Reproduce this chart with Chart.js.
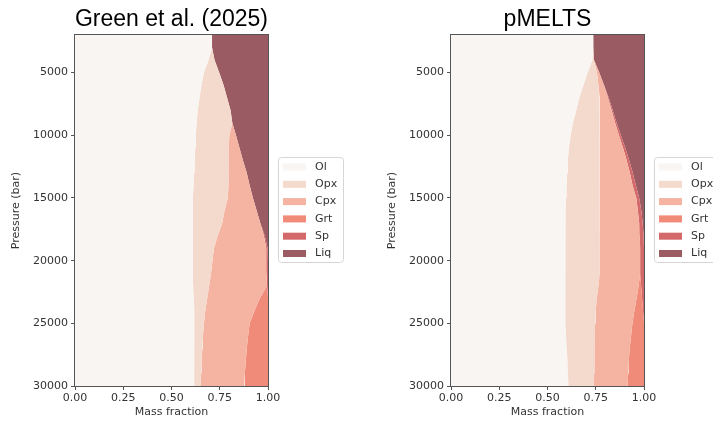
<!DOCTYPE html>
<html>
<head>
<meta charset="utf-8">
<script src="https://cdn.jsdelivr.net/npm/chart.js@4.4.1/dist/chart.umd.min.js"></script>
<style>
    body { margin: 0; background: #fff; }
    #wrap { position: relative; width: 713px; height: 425px; overflow: hidden; }
    .panel { position: absolute; top: 0; height: 425px; }
</style>
</head>
<body>
<div id="wrap">
    <div class="panel" style="left:0;width:356px"><canvas id="green" width="356" height="425"></canvas></div>
    <div class="panel" style="left:376px;width:337px"><canvas id="pmelts" width="337" height="425"></canvas></div>
</div>
<script>
// pressure (bar) down the y axis
var pressure = [2000, 3000, 4000, 5000, 6000, 7000, 8000, 9000, 10000, 11000, 12000, 13000, 14000, 15000,
    16000, 17000, 18000, 19000, 20000, 21000, 22000, 23000, 24000, 25000, 26000, 27000, 28000, 29000, 30000];
var phases = ['Ol', 'Opx', 'Cpx', 'Grt', 'Sp', 'Liq'];
var phaseColors = ['#f8f5f3', '#f4d9cd', '#f4b4a1', '#f08a79', '#d4696b', '#9b5b63'];
var xTicks = [0, 0.25, 0.5, 0.75, 1];
var yTicks = [5000, 10000, 15000, 20000, 25000, 30000];

// Green et al. (2025) mass fractions
var greenOl  = [.710, .710, .692, .668, .655, .645, .636, .630, .626, .623, .620, .617, .614, .611,
    .610, .610, .610, .610, .610, .610, .612, .616, .618, .618, .617, .617, .617, .617, .617];
var greenOpx = [0, 0, .031, .079, .115, .143, .170, .185, .174, .173, .175, .178, .181, .181,
    .165, .153, .130, .110, .102, .095, .083, .069, .057, .050, .046, .043, .039, .036, .033];
var greenCpx = [0, 0, 0, 0, 0, 0, 0, 0, .034, .056, .075, .095, .110, .130,
    .166, .197, .238, .270, .280, .287, .300, .273, .255, .237, .234, .230, .229, .227, .226];
var greenGrt = [0, 0, 0, 0, 0, 0, 0, 0, 0, 0, 0, 0, 0, 0,
    0, 0, 0, 0, 0, 0, 0, .042, .070, .095, .103, .110, .115, .120, .124];
var greenSp  = [0, 0, 0, 0, 0, 0, 0, 0, 0, 0, 0, 0, 0, 0,
    0, 0, .005, .008, .008, .008, .005, 0, 0, 0, 0, 0, 0, 0, 0];
var greenLiq = [.290, .290, .277, .253, .230, .212, .194, .185, .166, .148, .130, .110, .095, .078,
    .059, .040, .017, .002, 0, 0, 0, 0, 0, 0, 0, 0, 0, 0, 0];

// pMELTS mass fractions
var pmeltsOl  = [.737, .737, .733, .708, .686, .665, .649, .632, .620, .611, .605, .602, .599, .596,
    .594, .592, .592, .592, .592, .592, .592, .592, .592, .592, .596, .600, .603, .606, .608];
var pmeltsOpx = [0, 0, .007, .048, .078, .103, .121, .140, .152, .161, .167, .170, .173, .176,
    .178, .180, .178, .176, .175, .178, .172, .163, .158, .155, .149, .143, .139, .135, .132];
var pmeltsCpx = [0, 0, .001, .012, .029, .045, .062, .078, .098, .119, .138, .155, .169, .188,
    .196, .203, .208, .212, .213, .210, .208, .207, .200, .193, .188, .183, .179, .177, .175];
var pmeltsGrt = [0, 0, 0, 0, 0, 0, 0, 0, 0, 0, 0, 0, 0, 0,
    0, 0, 0, 0, 0, 0, .013, .028, .045, .060, .067, .074, .079, .082, .085];
var pmeltsSp  = [0, 0, 0, 0, 0, .004, .006, .008, .010, .012, .013, .015, .017, .015,
    .018, .018, .020, .020, .020, .020, .015, .010, .005, 0, 0, 0, 0, 0, 0];
var pmeltsLiq = [.263, .263, .259, .232, .207, .183, .162, .142, .120, .097, .077, .058, .042, .025,
    .014, .007, .002, 0, 0, 0, 0, 0, 0, 0, 0, 0, 0, 0, 0];

Chart.defaults.font.family = '"DejaVu Sans", sans-serif';
Chart.defaults.font.size = 11;
Chart.defaults.color = '#333';

// spines all round, title above, matplotlib style legend box on the right
var panelDecor = {
    id: 'panelDecor',
    afterDraw: function(chart, args, opts) {
        var ctx = chart.ctx;
        var a = chart.chartArea;
        ctx.save();
        ctx.strokeStyle = '#555';
        ctx.lineWidth = 1;
        ctx.strokeRect(a.left - 0.5, a.top - 0.5, a.right - a.left + 1, a.bottom - a.top + 1);

        ctx.fillStyle = '#000';
        ctx.font = '23px "Liberation Sans", Arial, sans-serif';
        ctx.textAlign = 'center';
        ctx.textBaseline = 'alphabetic';
        ctx.fillText(opts.title, (a.left + a.right) / 2, 26);

        var lx = a.right + 10, ly = 157;
        ctx.beginPath();
        ctx.roundRect(lx + 0.5, ly + 0.5, 65, 105, 3);
        ctx.fillStyle = 'rgba(255,255,255,0.8)';
        ctx.fill();
        ctx.strokeStyle = '#d6d6d6';
        ctx.stroke();
        ctx.font = '11px "DejaVu Sans", sans-serif';
        ctx.textAlign = 'left';
        ctx.textBaseline = 'middle';
        chart.data.datasets.forEach(function(ds, i) {
            var cy = ly + 10 + i * 17.3;
            ctx.fillStyle = ds.backgroundColor;
            ctx.fillRect(lx + 5, cy - 3.5, 23, 7);
            ctx.fillStyle = '#333';
            ctx.fillText(ds.label, lx + 37, cy);
        });
        ctx.restore();
    }
};

function buildPanel(canvasId, title, values, rightPad) {
    var running = pressure.map(function() { return 0; });
    var datasets = values.map(function(arr, i) {
        running = running.map(function(v, j) { return v + arr[j]; });
        return {
            label: phases[i],
            data: pressure.map(function(p, j) { return {x: running[j], y: p}; }),
            backgroundColor: phaseColors[i],
            borderColor: phaseColors[i],
            borderWidth: 0,
            pointRadius: 0,
            tension: 0,
            fill: i === 0 ? 'origin' : '-1'
        };
    });

    return new Chart(document.getElementById(canvasId), {
        type: 'line',
        data: { datasets: datasets },
        plugins: [panelDecor],
        options: {
            indexAxis: 'y',
            responsive: false,
            animation: false,
            events: [],
            layout: { padding: { left: 0, top: 35, right: rightPad, bottom: 0 } },
            plugins: {
                legend: { display: false },
                tooltip: { enabled: false },
                panelDecor: { title: title }
            },
            scales: {
                x: {
                    type: 'linear',
                    position: 'bottom',
                    min: 0,
                    max: 1,
                    afterFit: function(s) { s.height = 39; },
                    afterBuildTicks: function(s) { s.ticks = xTicks.map(function(v) { return {value: v}; }); },
                    ticks: { padding: 2, callback: function(v) { return v.toFixed(2); } },
                    grid: { drawOnChartArea: false, tickLength: 4, color: '#555' },
                    border: { color: '#555' },
                    title: { display: true, text: 'Mass fraction', padding: { top: 0, bottom: 6 } }
                },
                y: {
                    type: 'linear',
                    position: 'left',
                    min: 2000,
                    max: 30000,
                    reverse: true,
                    afterFit: function(s) { s.width = 75; },
                    afterBuildTicks: function(s) { s.ticks = yTicks.map(function(v) { return {value: v}; }); },
                    ticks: { padding: 3, callback: function(v) { return String(v); } },
                    grid: { drawOnChartArea: false, tickLength: 4, color: '#555' },
                    border: { color: '#555' },
                    title: { display: true, text: 'Pressure (bar)', padding: { top: 10, bottom: 0 } }
                }
            }
        }
    });
}

buildPanel('green', 'Green et al. (2025)', [greenOl, greenOpx, greenCpx, greenGrt, greenSp, greenLiq], 88);
buildPanel('pmelts', 'pMELTS', [pmeltsOl, pmeltsOpx, pmeltsCpx, pmeltsGrt, pmeltsSp, pmeltsLiq], 69);
</script>
</body>
</html>
